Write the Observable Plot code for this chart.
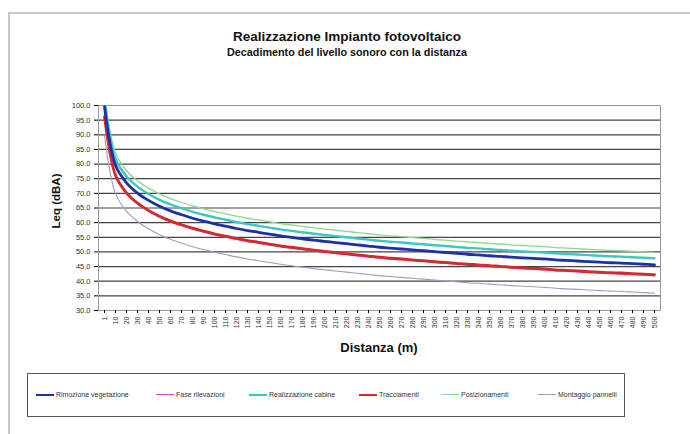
<!DOCTYPE html>
<html><head><meta charset="utf-8">
<script src="https://cdn.jsdelivr.net/npm/d3@7"></script>
<script src="https://cdn.jsdelivr.net/npm/@observablehq/plot@0.6"></script>
<style>
body{margin:0;background:#fff;font-family:"Liberation Sans",Arial,sans-serif;}
#wrap{position:relative;width:690px;height:434px;overflow:hidden;background:#fff}
#frame{position:absolute;left:8px;top:12px;width:700px;height:440px;border:2px solid #c8c8c8;box-sizing:border-box}
#chart{position:absolute;left:0;top:0}
.t{position:absolute;left:0;width:694px;text-align:center;font-weight:bold;color:#111;white-space:nowrap}
#title{top:29px;font-size:13.5px}
#subtitle{top:46px;font-size:10.8px}
#ytitle{position:absolute;left:56px;top:201px;transform:translate(-50%,-50%) rotate(-90deg);font-weight:bold;font-size:11.5px;white-space:nowrap;color:#111}
#xtitle{position:absolute;left:379px;top:347px;transform:translate(-50%,-50%);font-weight:bold;font-size:13px;white-space:nowrap;color:#111}
#legend{position:absolute;left:27px;top:373px;width:598px;height:44px;border:1.5px solid #555;box-sizing:border-box;background:#fff}
.li{position:absolute;top:17px;font-size:7px;color:#333;white-space:nowrap;display:flex;align-items:center}
.li span.sw{display:inline-block;width:18px;margin-right:2px}
</style>
</head><body>
<div id="wrap">
<div id="frame"></div>
<div id="chart"></div>
<div class="t" id="title">Realizzazione Impianto fotovoltaico</div>
<div class="t" id="subtitle">Decadimento del livello sonoro con la distanza</div>
<div id="ytitle">Leq (dBA)</div>
<div id="xtitle">Distanza (m)</div>
<div id="legend"></div>
</div>
<script>
const distances = [1,10,20,30,40,50,60,70,80,90,100,110,120,130,140,150,160,170,180,190,200,210,220,230,240,250,260,270,280,290,300,310,320,330,340,350,360,370,380,390,400,410,420,430,440,450,460,470,480,490,500];
const yTicks = [30,35,40,45,50,55,60,65,70,75,80,85,90,95,100];
const seriesNames = ["Rimozione vegetazione","Fase rilevazioni","Realizzazione cabine","Tracciamenti","Posizionamenti","Montaggio pannelli"];
const rimozioneVegetazione = [99.6,79.6,73.6,70.1,67.6,65.6,64.0,62.7,61.5,60.5,59.6,58.8,58.0,57.3,56.7,56.1,55.5,55.0,54.5,54.0,53.6,53.2,52.8,52.4,52.0,51.6,51.3,51.0,50.7,50.4,50.1,49.8,49.5,49.2,49.0,48.7,48.5,48.2,48.0,47.8,47.6,47.3,47.1,46.9,46.7,46.5,46.3,46.2,46.0,45.8,45.6];
const faseRilevazioni = [95.9,75.9,69.9,66.4,63.9,61.9,60.3,59.0,57.8,56.8,55.9,55.1,54.3,53.6,53.0,52.4,51.8,51.3,50.8,50.3,49.9,49.5,49.1,48.7,48.3,47.9,47.6,47.3,47.0,46.7,46.4,46.1,45.8,45.5,45.3,45.0,44.8,44.5,44.3,44.1,43.9,43.6,43.4,43.2,43.0,42.8,42.6,42.5,42.3,42.1,41.9];
const realizzazioneCabine = [101.8,81.8,75.8,72.3,69.8,67.8,66.2,64.9,63.7,62.7,61.8,61.0,60.2,59.5,58.9,58.3,57.7,57.2,56.7,56.2,55.8,55.4,55.0,54.6,54.2,53.8,53.5,53.2,52.9,52.6,52.3,52.0,51.7,51.4,51.2,50.9,50.7,50.4,50.2,50.0,49.8,49.5,49.3,49.1,48.9,48.7,48.5,48.4,48.2,48.0,47.8];
const tracciamenti = [96.2,76.2,70.2,66.7,64.2,62.2,60.6,59.3,58.1,57.1,56.2,55.4,54.6,53.9,53.3,52.7,52.1,51.6,51.1,50.6,50.2,49.8,49.4,49.0,48.6,48.2,47.9,47.6,47.3,47.0,46.7,46.4,46.1,45.8,45.6,45.3,45.1,44.8,44.6,44.4,44.2,43.9,43.7,43.5,43.3,43.1,42.9,42.8,42.6,42.4,42.2];
const posizionamenti = [103.8,83.8,77.8,74.3,71.8,69.8,68.2,66.9,65.7,64.7,63.8,63.0,62.2,61.5,60.9,60.3,59.7,59.2,58.7,58.2,57.8,57.4,57.0,56.6,56.2,55.8,55.5,55.2,54.9,54.6,54.3,54.0,53.7,53.4,53.2,52.9,52.7,52.4,52.2,52.0,51.8,51.5,51.3,51.1,50.9,50.7,50.5,50.4,50.2,50.0,49.8];
const montaggioPannelli = [89.9,69.9,63.9,60.4,57.9,55.9,54.3,53.0,51.8,50.8,49.9,49.1,48.3,47.6,47.0,46.4,45.8,45.3,44.8,44.3,43.9,43.5,43.1,42.7,42.3,41.9,41.6,41.3,41.0,40.7,40.4,40.1,39.8,39.5,39.3,39.0,38.8,38.5,38.3,38.1,37.9,37.6,37.4,37.2,37.0,36.8,36.6,36.5,36.3,36.1,35.9];

const seriesValues = [rimozioneVegetazione, faseRilevazioni, realizzazioneCabine, tracciamenti, posizionamenti, montaggioPannelli];
const colors = ["#1f2fa8","#e040c0","#3cc8c0","#d42a2a","#8fd88f","#a898c8"];
const widths = [2.8,1.5,2.4,2.8,1.3,1.1];
const drawOrder = [4,2,5,1,3,0];

const rows = seriesNames.map((name, k) => seriesValues[k].map((v, i) => ({d: distances[i], v, s: name})));

const marks = [
  Plot.ruleY(yTicks, {stroke: "#444", strokeWidth: 1.2}),
  Plot.frame({stroke: "#999"}),
  Plot.axisY({ticks: yTicks, tickFormat: d => d.toFixed(1), tickSize: 4, tickPadding: 4, fontSize: 7.5, fill: "#333", label: null}),
  Plot.axisX({tickRotate: -90, tickSize: 3, tickPadding: 3, fontSize: 7, fill: "#333", label: null})
];
for (const k of drawOrder) {
  marks.push(Plot.line(rows[k], {x: "d", y: "v", stroke: colors[k], strokeWidth: widths[k], curve: "catmull-rom", clip: true}));
}

const chart = Plot.plot({
  width: 690, height: 434,
  marginLeft: 98, marginRight: 30, marginTop: 105, marginBottom: 124,
  style: {background: "transparent", fontFamily: "Liberation Sans, Arial, sans-serif"},
  x: {type: "point", domain: distances, padding: 0.5, align: 0.5},
  y: {domain: [30, 100]},
  marks
});
document.getElementById("chart").appendChild(chart);

const legendX = [8, 128, 221, 331, 413, 510];
const legend = document.getElementById("legend");
seriesNames.forEach((name, k) => {
  const el = document.createElement("div");
  el.className = "li";
  el.style.left = legendX[k] + "px";
  el.innerHTML = `<span class="sw" style="border-top:${Math.max(1, widths[k])}px solid ${colors[k]}"></span>${name}`;
  legend.appendChild(el);
});
</script>
</body></html>
